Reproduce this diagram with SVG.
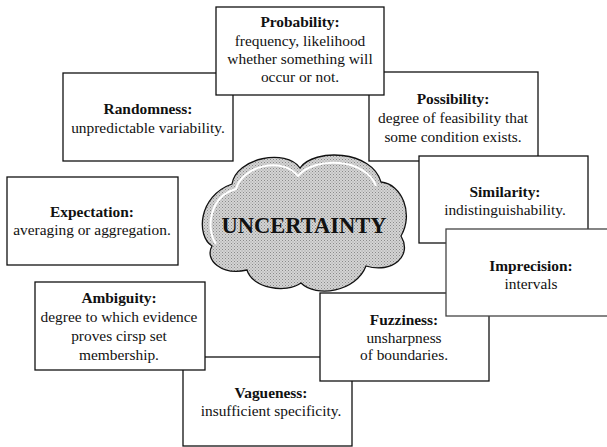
<svg xmlns="http://www.w3.org/2000/svg" width="607" height="447" viewBox="0 0 607 447">
<style>
.box{fill:#fff;stroke:#111;stroke-width:1.3}
.t{font-family:"Liberation Serif","Times New Roman",serif;font-size:15.4px;fill:#111;text-anchor:middle}
.b{font-weight:bold}
.big{font-family:"Liberation Serif","Times New Roman",serif;font-size:22.5px;font-weight:bold;fill:#111;text-anchor:middle}
</style>
<defs>
<pattern id="stip" width="3" height="3" patternUnits="userSpaceOnUse">
<rect width="3" height="3" fill="#d4d4d4"/>
<rect width="1" height="1" fill="#8a8a8a"/>
<rect x="1.5" y="1.5" width="1" height="1" fill="#9a9a9a"/>
</pattern>
</defs>
<rect width="607" height="447" fill="#fff"/>
<g id="connectors"/>
<g id="randomness">
<rect class="box" x="63" y="73" width="170" height="88"/>
<text class="t b" x="148" y="114">Randomness:</text>
<text class="t" x="148" y="133">unpredictable variability.</text>
</g>
<g id="possibility">
<rect class="box" x="369" y="72" width="169" height="89"/>
<text class="t b" x="453" y="104">Possibility:</text>
<text class="t" x="453" y="123">degree of feasibility that</text>
<text class="t" x="453" y="142">some condition exists.</text>
</g>
<g id="probability">
<rect class="box" x="216" y="7" width="168" height="88"/>
<text class="t b" x="300" y="27">Probability:</text>
<text class="t" x="300" y="46">frequency, likelihood</text>
<text class="t" x="300" y="64">whether something will</text>
<text class="t" x="300" y="82">occur or not.</text>
</g>
<g id="similarity">
<rect class="box" x="419" y="156" width="169" height="87"/>
<text class="t b" x="505" y="197">Similarity:</text>
<text class="t" x="505" y="215">indistinguishability.</text>
</g>
<g id="vagueness">
<rect class="box" x="183" y="357" width="169" height="89"/>
<text class="t b" x="271" y="398">Vagueness:</text>
<text class="t" x="271" y="416">insufficient specificity.</text>
</g>
<g id="fuzziness">
<rect class="box" x="320" y="293" width="169" height="88"/>
<text class="t b" x="404" y="325">Fuzziness:</text>
<text class="t" x="404" y="343">unsharpness</text>
<text class="t" x="404" y="360">of boundaries.</text>
</g>
<g id="imprecision">
<rect class="box" x="446" y="229" width="170" height="87" style="stroke:#444"/>
<text class="t b" x="531" y="271">Imprecision:</text>
<text class="t" x="531" y="289">intervals</text>
</g>
<g id="ambiguity">
<rect class="box" x="35" y="282" width="170" height="88"/>
<text class="t b" x="119" y="303">Ambiguity:</text>
<text class="t" x="119" y="322">degree to which evidence</text>
<text class="t" x="119" y="341">proves cirsp set</text>
<text class="t" x="119" y="360">membership.</text>
</g>
<g id="expectation">
<rect class="box" x="7" y="177" width="171" height="88"/>
<text class="t b" x="92" y="217">Expectation:</text>
<text class="t" x="92" y="235">averaging or aggregation.</text>
</g>
<g id="uncertainty">
<path d="M232,184 C236,158 286,148 300,168 C314,148 372,150 381,182 C402,184 414,214 401,236 C413,256 392,274 366,266 C356,292 316,298 301,283 C286,294 252,288 247,270 C222,276 204,260 212,246 C196,236 198,196 232,184 Z" fill="url(#stip)" stroke="#111" stroke-width="1.3"/>
<path d="M216,244 C205,228 210,196 236,189 C242,166 282,156 298,176 C314,156 366,158 376,186" fill="none" stroke="#fff" stroke-width="2"/>
<text class="big" x="304" y="233">UNCERTAINTY</text>
</g>
</svg>
